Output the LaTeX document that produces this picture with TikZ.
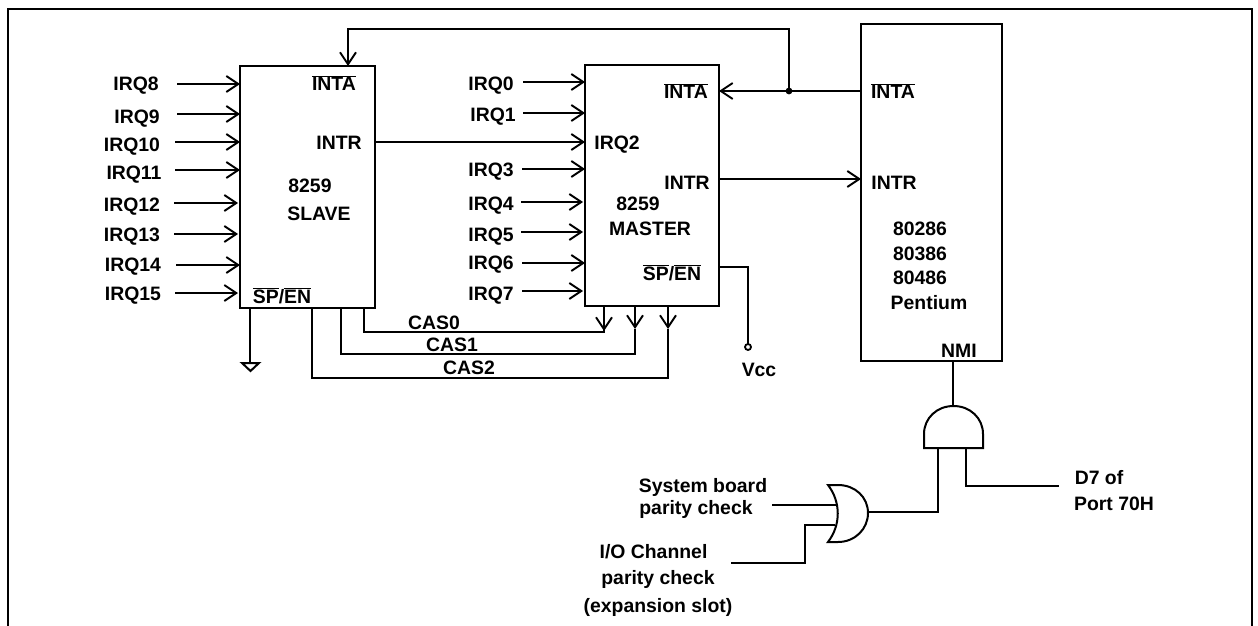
\documentclass[tikz,border=0pt]{standalone}
\usepackage{fontspec}
\setmainfont{Liberation Sans}
\usetikzlibrary{arrows.meta}
\newcommand{\ovl}[1]{$\overline{\hbox{#1}}$}
\tikzset{
  lab/.style={inner sep=0pt,outer sep=0pt,text height=14pt,text depth=0pt,font=\fontsize{19.4}{21}\selectfont\bfseries},
  chip/.style={draw,line width=2.2pt,inner sep=0pt,outer sep=0pt},
  wire/.style={line width=1.9pt,line cap=butt,line join=miter},
  arr/.style={wire,-{Straight Barb[length=12pt,width=16pt,line width=1.9pt]}},
  gate/.style={line width=2pt,line join=miter}
}
\begin{document}
\begin{tikzpicture}[x=1pt,y=-1pt]
\useasboundingbox (0,0) rectangle (1258,626);
% frame
\draw[line width=2.6pt] (8,626) -- (8,9) -- (1252,9) -- (1252,626);
% chips
\node[chip,minimum width=135pt,minimum height=242pt] (slave) at (307.5,187) {};
\node[chip,minimum width=134pt,minimum height=241pt] (master) at (652,185.5) {};
\node[chip,minimum width=141pt,minimum height=337pt] (cpu) at (931.5,192.5) {};
% slave inputs
\foreach \n/\lx/\ly/\sx/\y/\tx in {8/136/84/177/84/240,9/137/116/177/114/240,10/132/144/175/142/240,11/134/172/175/170/240,12/132/204/174/203/238,13/132/234/174/234/238,14/133/264/176/265/240,15/133/293/175/293/238}{
  \node[lab] (l\n) at (\lx,\ly) {IRQ\n};
  \coordinate (s\n) at (\sx,\y);
  \coordinate (e\n) at (\tx,\y);
  \draw[arr] (s\n) -- (e\n);
}
% master inputs
\foreach \n/\lx/\ly/\sx/\y/\tx in {0/491/84/523/82/585,1/493/114/523/113/585,3/491/169/522/169/585,4/491/203/521/202/583,5/491/234/521/232/583,6/491/262/522/263/585,7/491/293/522/291/583}{
  \node[lab] (m\n) at (\lx,\ly) {IRQ\n};
  \coordinate (ms\n) at (\sx,\y);
  \coordinate (me\n) at (\tx,\y);
  \draw[arr] (ms\n) -- (me\n);
}
% slave labels
\node[lab] (sinta) at (334,84) {\ovl{INTA}};
\node[lab] (sintr) at (339,142) {INTR};
\node[lab] (s8259) at (310,185) {8259};
\node[lab] (sname) at (319,213) {SLAVE};
\node[lab] (ssp) at (282,296) {\ovl{SP}/\ovl{EN}};
% master labels
\node[lab] (mirq2) at (617,142) {IRQ2};
\node[lab] (minta) at (686,92) {\ovl{INTA}};
\node[lab] (mintr) at (687,182) {INTR};
\node[lab] (m8259) at (638,203) {8259};
\node[lab] (mname) at (650,228) {MASTER};
\node[lab] (msp) at (672,273) {\ovl{SP}/\ovl{EN}};
% cpu labels
\node[lab] (cinta) at (893,92) {\ovl{INTA}};
\node[lab] (cintr) at (894,182) {INTR};
\node[lab] (c286) at (920,228) {80286};
\node[lab] (c386) at (920,253) {80386};
\node[lab] (c486) at (920,277) {80486};
\node[lab] (cpent) at (929,302) {Pentium};
\node[lab] (cnmi) at (959,350) {NMI};
% interrupt lines
\coordinate (jn) at (789,91);
\draw[arr] (slave.east |- 0,142) -- (master.west |- 0,142);
\draw[arr] (cpu.west |- jn) -- (master.east |- jn);
\fill (jn) circle (3.4pt);
\draw[arr] (jn) |- (348,29) -- (slave.north -| 348,0);
\draw[arr] (master.east |- 0,179) -- (cpu.west |- 0,179);
% CAS lines
\draw[wire] (slave.south -| 364,0) |- (604,332) -- (604,329);
\draw[wire] (slave.south -| 341,0) |- (635,354) -- (635,329);
\draw[wire] (slave.south -| 312,0) |- (668,378) -- (668,329);
\draw[arr] (master.south -| 604,0) -- (604,331);
\draw[arr] (master.south -| 635,0) -- (635,329);
\draw[arr] (master.south -| 668,0) -- (668,329);
\node[lab] (cas0) at (434,322) {CAS0};
\node[lab] (cas1) at (452,344) {CAS1};
\node[lab] (cas2) at (469,367) {CAS2};
% slave ground
\coordinate (gnd) at (250,363);
\draw[wire] (slave.south -| gnd) -- (gnd);
\draw[gate] (242,363) -- (259,363) -- (250.5,371) -- cycle;
% master SP/EN to Vcc
\coordinate (vccp) at (748,347);
\draw[wire] (master.east |- 0,267) -| (748,344);
\draw[line width=1.8pt] (vccp) circle (3pt);
\node[lab] (vcc) at (759,369) {Vcc};
% gates
\draw[gate] (924,448) -- (924,434) .. controls (924,418) and (937,406) .. (953.5,406) .. controls (970,406) and (983,418) .. (983,434) -- (983,448) -- cycle;
\draw[gate] (828,485) -- (838,485) .. controls (855,485) and (868,497) .. (868,513) .. controls (868,529) and (855,542) .. (838,542) -- (828,542) .. controls (841,525) and (841,502) .. (828,485) -- cycle;
\coordinate (andt) at (953,406);
\coordinate (ora) at (836,505);
\coordinate (orb) at (835,525);
\coordinate (oro) at (868,512);
\draw[wire] (cpu.south -| andt) -- (andt);
\draw[wire] (oro) -| (938,448);
\coordinate (d7) at (1059,486);
\draw[wire] (966,448) |- (d7);
\coordinate (sb) at (772,505);
\draw[wire] (sb) -- (ora);
\coordinate (io) at (731,563);
\draw[wire] (io) -| (805,525) -- (orb);
\node[lab] (sys1) at (703,485) {System board};
\node[lab] (sys2) at (696,507) {parity check};
\node[lab] (io1) at (653.5,551) {I/O Channel};
\node[lab] (io2) at (658,577) {parity check};
\node[lab] (io3) at (658,605) {(expansion slot)};
\node[lab] (p1) at (1099,477) {D7 of};
\node[lab] (p2) at (1114,503) {Port 70H};
\end{tikzpicture}
\end{document}
